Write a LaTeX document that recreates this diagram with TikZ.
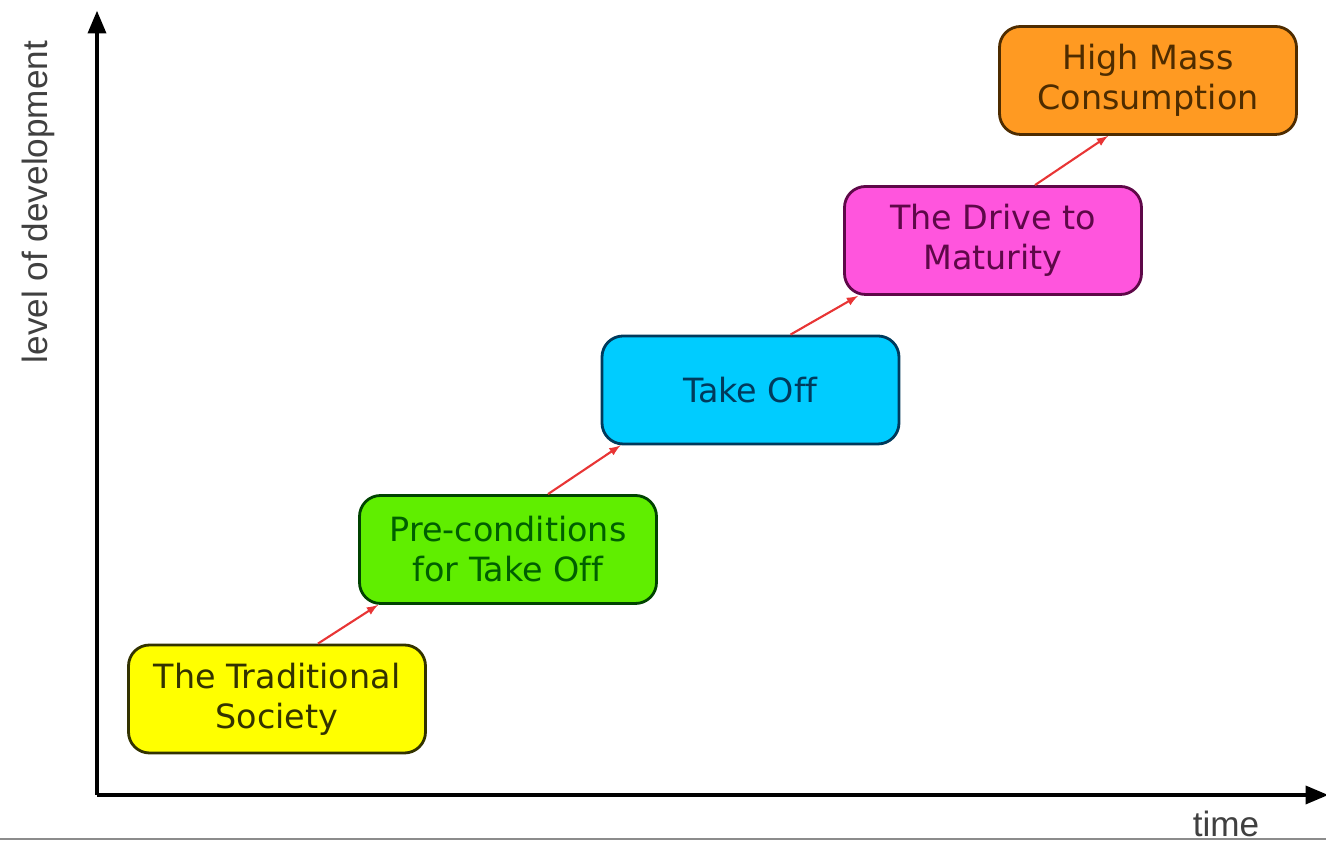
\documentclass[tikz,border=0pt]{standalone}
\usepackage{fontspec}
\setmainfont{DejaVu Sans}[Ligatures=NoCommon]
\newfontfamily\axisfont{Liberation Sans}
\usetikzlibrary{arrows, calc, positioning}
\definecolor{tradfill}{HTML}{FFFF00}
\definecolor{tradtext}{HTML}{333300}
\definecolor{prefill}{HTML}{60EE00}
\definecolor{pretext}{HTML}{005F00}
\definecolor{takefill}{HTML}{00CCFF}
\definecolor{taketext}{HTML}{003A5C}
\definecolor{drivefill}{HTML}{FF55DD}
\definecolor{drivetext}{HTML}{5E0848}
\definecolor{massfill}{HTML}{FF9A22}
\definecolor{masstext}{HTML}{4E2C00}
\definecolor{linkred}{HTML}{E83535}

\begin{document}
\begin{tikzpicture}[
		stage/.style={rounded corners=0.42cm, line width=1.6pt, align=center,
			minimum width=5.94cm, minimum height=2.16cm, inner sep=0pt,
			font=\fontsize{19}{22.8}\selectfont},
		link/.style={-latex, line width=1.2pt, linkred}
	]
			\useasboundingbox (0,0) rectangle (26.52,16.84);
			% Axes
			\coordinate (O) at (1.94,0.94);
			\coordinate (ytop) at (1.94,16.62);
			\coordinate (xend) at (26.56,0.94);
			\draw[line width=2pt, -triangle 45] (O) -- (ytop);
			\draw[line width=2pt, -triangle 45] (O) -- (xend);
			\node[font=\axisfont\fontsize{20}{24}\selectfont, text=black!75, rotate=90] (ylab) at (0.76,12.8) {level of development};
			\node[font=\axisfont\fontsize{20}{24}\selectfont, text=black!75] (xlab) at (24.52,0.36) {time};
			% Bottom rule
			\draw[black!45, line width=1pt] (0,0.06) -- (26.52,0.06);
			% Stages
			\node[stage, fill=tradfill, draw=tradtext, text=tradtext] (trad) at (5.54,2.86) {The Traditional\\Society};
			\node[stage, fill=prefill, draw=pretext!70!black, text=pretext] (pre) at (10.16,5.85) {Pre-conditions\\for Take Off};
			\node[stage, fill=takefill, draw=taketext, text=taketext] (take) at (15.01,9.04) {Take Off};
			\node[stage, fill=drivefill, draw=drivetext, text=drivetext] (drive) at (19.86,12.03) {The Drive to\\Maturity};
			\node[stage, fill=massfill, draw=masstext, text=masstext] (mass) at (22.96,15.23) {High Mass\\Consumption};
			% Links between stages
			\draw[link] ($(trad.north)+(0.82,0)$) -- ($(pre.south west)+(0.4,0)$);
			\draw[link] ($(pre.north)+(0.8,0)$) -- ($(take.south west)+(0.4,0)$);
			\draw[link] ($(take.north)+(0.8,0)$) -- ($(drive.south west)+(0.3,0)$);
			\draw[link] ($(drive.north)+(0.84,0)$) -- ($(mass.south west)+(2.2,0)$);
		\end{tikzpicture}
\end{document}
